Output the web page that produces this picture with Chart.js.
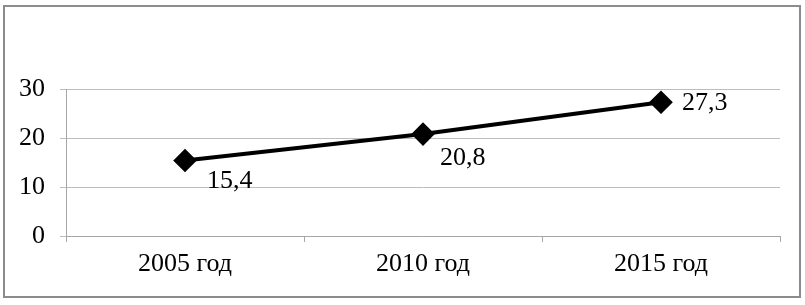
<!DOCTYPE html>
<html>
<head>
<meta charset="utf-8">
<script src="https://cdn.jsdelivr.net/npm/chart.js@4/dist/chart.umd.min.js"></script>
<style>
  html, body { margin: 0; padding: 0; background: #fff; }
  #wrap { width: 805px; height: 305px; }
</style>
</head>
<body>
<div id="wrap"><canvas id="chart" width="805" height="305"></canvas></div>
<script>
// data
const years = [ '2005 год', '2010 год', '2015 год' ];
const values = [ 15.4, 20.8, 27.3 ];
const yTicks = [ 0, 10, 20, 30 ];

// label offsets from each point to text baseline start (x, y)
const labelOffsets = [ [ 22, 27 ], [ 17, 31 ], [ 21, 8 ] ];

const FONT = '"Liberation Serif", "Times New Roman", serif';

//outer frame + value labels
const extras = {
	id: 'extras',
	afterDraw(chart) {
		const c = chart.ctx;
		c.save();
		c.strokeStyle = '#8c8c8c';
		c.lineWidth = 2;
		c.strokeRect(4, 6, 796, 291);

		c.fillStyle = '#000';
		c.font = '26px ' + FONT;
		c.textAlign = 'left';
		c.textBaseline = 'alphabetic';
		const pts = chart.getDatasetMeta(0).data;
		pts.forEach((p, i) => {
			const txt = values[i].toString().replace('.', ',');
			c.fillText(txt, p.x + labelOffsets[i][0], p.y + labelOffsets[i][1]);
		});
		c.restore();
	}
};

const ctx = document.querySelector('#chart').getContext('2d');
const chart = new Chart(ctx, {
	type: 'line',
	data: {
		labels: years,
		datasets: [
			{
				data: values,
				borderColor: '#000',
				borderWidth: 4,
				pointStyle: 'rectRot',
				pointRadius: 9,
				pointBackgroundColor: '#000',
				pointBorderColor: '#000',
				tension: 0
			}
		]
	},
	options: {
		responsive: false,
		animation: false,
		layout: { padding: { left: 0, top: 89, right: 25, bottom: 0 } },
		plugins: {
			legend: { display: false },
			tooltip: { enabled: false }
		},
		scales: {
			x: {
				offset: true,
				grid: {
					offset: true,
					drawOnChartArea: false,
					drawTicks: true,
					tickLength: 6,
					color: '#a6a6a6'
				},
				border: { display: true, color: '#a6a6a6', width: 1 },
				ticks: {
					color: '#000',
					font: { family: FONT, size: 26 },
					padding: 7,
					maxRotation: 0
				},
				afterFit: (scale) => { scale.height = 69; }
			},
			y: {
				min: 0,
				max: 30,
				afterBuildTicks: (scale) => { scale.ticks = yTicks.map(v => ({ value: v })); },
				grid: {
					color: '#bdbdbd',
					tickLength: 6,
					drawTicks: true
				},
				border: { display: true, color: '#a6a6a6', width: 1 },
				ticks: {
					color: '#000',
					font: { family: FONT, size: 26 },
					padding: 15
				},
				afterFit: (scale) => { scale.width = 66; }
			}
		}
	},
	plugins: [ extras ]
});
</script>
</body>
</html>
